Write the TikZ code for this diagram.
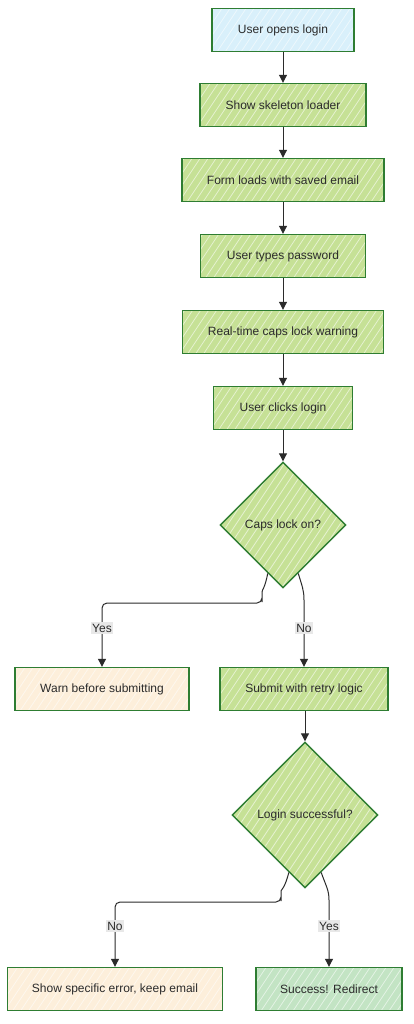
\documentclass[tikz,border=0pt]{standalone}
\usepackage{fontspec}
\setmainfont{Liberation Sans}
\usetikzlibrary{shapes.geometric,arrows.meta,calc}
\definecolor{bord}{HTML}{2E7D32}
\definecolor{gfill}{HTML}{C6E196}
\definecolor{bfill}{HTML}{D9F0FB}
\definecolor{ofill}{HTML}{FDEFDB}
\definecolor{sfill}{HTML}{C3E4C4}
\definecolor{ink}{HTML}{2B2B2B}
\definecolor{lbl}{HTML}{E8E8E8}
\tikzset{
  hatch/.style={path picture={
    \foreach \i in {-240,-232,...,240}
      \draw[white,opacity=0.55,line width=0.8pt]
        ([xshift=\i pt,yshift=-20pt]path picture bounding box.south west) -- ++(200pt,300pt);
  }},
  boxbase/.style={draw=bord,line width=1.4pt,rectangle,minimum height=43pt,
    font=\fontsize{12}{14}\selectfont,text=ink,inner sep=2pt},
  gbox/.style={boxbase,fill=gfill,hatch},
  bbox/.style={boxbase,fill=bfill,hatch},
  obox/.style={boxbase,fill=ofill,hatch},
  sbox/.style={boxbase,fill=sfill,hatch},
  dec/.style={diamond,draw=bord,line width=1.4pt,fill=gfill,hatch,
    font=\fontsize{12}{14}\selectfont,text=ink,inner sep=0pt},
  arr/.style={draw=ink,line width=1pt,-{Triangle[length=8pt,width=8pt]}},
  elabel/.style={fill=lbl,font=\fontsize{12}{14}\selectfont,text=ink,inner sep=1.5pt}
}
\begin{document}
\begin{tikzpicture}[x=1pt,y=-1pt]
\useasboundingbox[fill=white] (0,0) rectangle (413,1024);
\node[bbox,minimum width=142pt] (n1) at (283,30) {User opens login};
\node[gbox,minimum width=166pt] (n2) at (283,105) {Show skeleton loader};
\node[gbox,minimum width=202pt] (n3) at (283,180) {Form loads with saved email};
\node[gbox,minimum width=165pt] (n4) at (283,256) {User types password};
\node[gbox,minimum width=201pt] (n5) at (283,332) {Real-time caps lock warning};
\node[gbox,minimum width=139pt] (n6) at (283,408) {User clicks login};
\node[dec,minimum width=126pt,minimum height=126pt] (d1) at (283,525) {Caps lock on?};
\node[obox,minimum width=174pt] (warn) at (102,689) {Warn before submitting};
\node[gbox,minimum width=168pt] (sub) at (304,689) {Submit with retry logic};
\node[dec,minimum width=146pt,minimum height=146pt] (d2) at (305,815) {Login successful?};
\node[obox,minimum width=215pt] (err) at (115,989) {Show specific error, keep email};
\node[sbox,minimum width=146pt] (succ) at (329,989) {Success! Redirect};

\draw[arr] (n1) -- (n2);
\draw[arr] (n2) -- (n3);
\draw[arr] (n3) -- (n4);
\draw[arr] (n4) -- (n5);
\draw[arr] (n5) -- (n6);
\draw[arr] (n6) -- (d1);
\draw[arr] (sub.south -| d2.north) -- (d2.north);

\coordinate (p1) at ($(d1.south)!0.24!(d1.west)$);
\coordinate (p2) at ($(d1.south)!0.24!(d1.east)$);
\draw[arr,rounded corners=5pt] (p1) .. controls (265,588) and (262,590) .. (262,597) -- (262,603) -| (warn.north);
\draw[arr] (p2) .. controls (302,586) and (304,590) .. (304,600) -- (sub.north);
\node[elabel] (ly1) at (102,628) {Yes};
\node[elabel] (ln1) at (304,628) {No};

\coordinate (q1) at ($(d2.south)!0.22!(d2.west)$);
\coordinate (q2) at ($(d2.south)!0.22!(d2.east)$);
\draw[arr,rounded corners=5pt] (q1) .. controls (285,888) and (281,890) .. (281,896) -- (281,902) -| (err.north);
\draw[arr] (q2) .. controls (326,886) and (329,890) .. (329,900) -- (succ.north);
\node[elabel] (ln2) at (115,926) {No};
\node[elabel] (ly2) at (329,926) {Yes};
\end{tikzpicture}
\end{document}
